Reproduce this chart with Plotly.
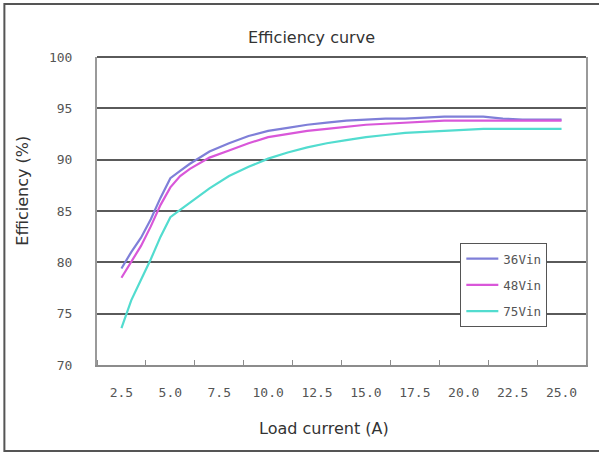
import plotly.graph_objects as go

load_current = [2.5, 3.0, 3.5, 4.0, 4.5, 5.0, 5.5, 6.0, 7.0, 8.0, 9.0, 10.0, 11.0, 12.0,
                13.0, 14.0, 15.0, 16.0, 17.0, 18.0, 19.0, 20.0, 21.0, 22.0, 23.0, 24.0, 25.0]

eff_36vin = [79.4, 81.0, 82.4, 84.2, 86.3, 88.2, 88.9, 89.6, 90.8, 91.6, 92.3, 92.8, 93.1, 93.4,
             93.6, 93.8, 93.9, 94.0, 94.0, 94.1, 94.2, 94.2, 94.2, 94.0, 93.9, 93.9, 93.9]
eff_48vin = [78.5, 80.0, 81.6, 83.5, 85.6, 87.3, 88.4, 89.1, 90.2, 90.9, 91.6, 92.2, 92.5, 92.8,
             93.0, 93.2, 93.4, 93.5, 93.6, 93.7, 93.8, 93.8, 93.8, 93.8, 93.8, 93.8, 93.8]
eff_75vin = [73.6, 76.3, 78.3, 80.3, 82.5, 84.4, 85.1, 85.8, 87.2, 88.4, 89.3, 90.1, 90.7, 91.2,
             91.6, 91.9, 92.2, 92.4, 92.6, 92.7, 92.8, 92.9, 93.0, 93.0, 93.0, 93.0, 93.0]

series_names = ["36Vin", "48Vin", "75Vin"]
series_colors = ["#7f7fd8", "#d957d9", "#52dccf"]

x_ticks = [2.5, 5.0, 7.5, 10.0, 12.5, 15.0, 17.5, 20.0, 22.5, 25.0]
x_tick_labels = ["2.5", "5.0", "7.5", "10.0", "12.5", "15.0", "17.5", "20.0", "22.5", "25.0"]
y_ticks = [70, 75, 80, 85, 90, 95, 100]

mono = "DejaVu Sans Mono"

fig = go.Figure()
for name, ys, col in zip(series_names, [eff_36vin, eff_48vin, eff_75vin], series_colors):
    fig.add_trace(go.Scatter(x=load_current, y=ys, mode="lines", name=name,
                             legendgroup=name,
                             line=dict(color=col, width=2.2)))

fig.update_layout(
    width=599, height=453,
    margin=dict(l=97, r=11, t=57, b=88),
    paper_bgcolor="white", plot_bgcolor="white",
    showlegend=True,
    legend=dict(x=0.743, y=0.396, xanchor="left", yanchor="top",
                bgcolor="white", bordercolor="#555555", borderwidth=1,
                font=dict(family=mono, size=12.5, color="#555555"),
                tracegroupgap=7, itemwidth=32),
    xaxis=dict(range=[1.25, 26.25], tickvals=x_ticks, ticktext=x_tick_labels,
               ticks="", showgrid=False, zeroline=False,
               showline=True, linecolor="#8c8c8c", linewidth=2, mirror=False,
               tickfont=dict(family=mono, size=13, color="#555555"),
               ticklabelstandoff=14,
               minor=dict(tick0=1.25, dtick=2.5, ticks="inside", ticklen=5,
                          tickcolor="#8c8c8c", tickwidth=1, showgrid=False)),
    yaxis=dict(range=[70, 100], tickvals=y_ticks, ticks="",
               showgrid=True, gridcolor="#5a5a5a", gridwidth=2, zeroline=False,
               showline=True, linecolor="#9a9a9a", linewidth=2, mirror=True,
               tickfont=dict(family=mono, size=13, color="#555555"),
               ticklabelstandoff=20),
    annotations=[
        dict(text="Efficiency curve", x=(312 - 97) / 491, y=(365 - 38) / 308,
             xref="paper", yref="paper", xanchor="center", yanchor="middle",
             showarrow=False, font=dict(family="DejaVu Sans", size=16, color="#333333")),
        dict(text="Load current (A)", x=0.465, y=-0.205, xref="paper", yref="paper",
             showarrow=False, xanchor="center", yanchor="middle",
             font=dict(family="DejaVu Sans", size=16, color="#333333")),
        dict(text="Efficiency (%)", x=-0.152, y=0.565, xref="paper", yref="paper",
             showarrow=False, xanchor="center", yanchor="middle", textangle=-90,
             font=dict(family="DejaVu Sans", size=16, color="#333333")),
    ],
    shapes=[
        dict(type="rect", xref="paper", yref="paper", x0=-0.1894, x1=1.04, y0=-0.279, y1=1.172,
             line=dict(color="#555555", width=2), fillcolor="rgba(0,0,0,0)", layer="below"),
        dict(type="line", xref="paper", yref="paper", x0=0, x1=1, y0=1, y1=1,
             line=dict(color="#5a5a5a", width=2), layer="above"),
    ],
)

fig.write_html("out.html", post_script="document.body.style.margin='0';",
               config={"displayModeBar": False})
